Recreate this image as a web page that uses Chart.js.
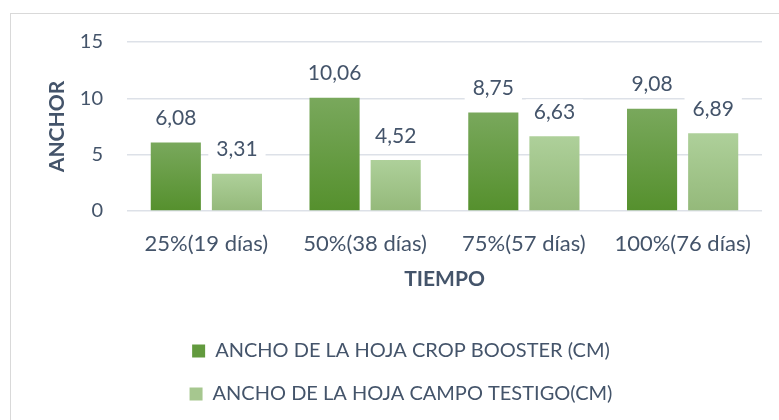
<!DOCTYPE html>
<html>
<head>
<meta charset="utf-8">
<script src="https://cdn.jsdelivr.net/npm/chart.js@4.4.1/dist/chart.umd.min.js"></script>
<style>
  body { margin: 0; background: #fff; }
  #wrap { position: relative; width: 779px; height: 420px; overflow: hidden; }
  #frame { position: absolute; left: 10px; top: 13px; width: 900px; height: 500px;
           border-left: 1px solid #d9d9d9; border-top: 1px solid #d9d9d9; }
  canvas { position: absolute; left: 0; top: 0; }
</style>
</head>
<body>
<div id="wrap">
  <div id="frame"></div>
  <canvas id="myChart" width="779" height="420"></canvas>
</div>
<script>
var categories = ['25%(19 días)', '50%(38 días)', '75%(57 días)', '100%(76 días)'];
var cropBooster = [6.08, 10.06, 8.75, 9.08];
var campoTestigo = [3.31, 4.52, 6.63, 6.89];
var yTicks = [0, 5, 10, 15];
var seriesNames = ['ANCHO DE LA HOJA CROP BOOSTER (CM)', 'ANCHO DE LA HOJA CAMPO TESTIGO(CM)'];

var FONT = 'Lato';
var TEXT = '#44546a';

// vertical gradient for each bar, from its top down to the zero line
function barFill(top, bottom) {
    return function(c) {
        var chart = c.chart;
        if (!chart.chartArea || c.type !== 'data') return bottom;
        var ys = chart.scales.y;
        var y0 = ys.getPixelForValue(c.raw);
        var y1 = ys.getPixelForValue(0);
        if (!isFinite(y0) || !isFinite(y1) || y0 === y1) return bottom;
        var g = chart.ctx.createLinearGradient(0, y0, 0, y1);
        g.addColorStop(0, top);
        g.addColorStop(1, bottom);
        return g;
    };
}

// value labels with a white box behind them
var valueLabels = {
    id: 'valueLabels',
    afterDatasetsDraw: function(chart) {
        var ctx = chart.ctx;
        ctx.save();
        ctx.font = '21px ' + FONT;
        ctx.textAlign = 'center';
        ctx.textBaseline = 'middle';
        chart.data.datasets.forEach(function(ds, i) {
            var meta = chart.getDatasetMeta(i);
            meta.data.forEach(function(bar, j) {
                var txt = ds.data[j].toFixed(2).replace('.', ',');
                var w = ctx.measureText(txt).width + 16;
                var y = bar.y - 24;
                ctx.fillStyle = '#fff';
                ctx.fillRect(bar.x - w / 2, y - 13, w, 26);
                ctx.fillStyle = TEXT;
                ctx.fillText(txt, bar.x, y);
            });
        });
        ctx.restore();
    }
};

// the legend sits a little right of the page centre
var legendShift = {
    id: 'legendShift',
    afterLayout: function(chart) {
        chart.legend.left += 40;
    }
};

var ctx = document.getElementById('myChart').getContext('2d');

var myChart = new Chart(ctx, {
    type: 'bar',
    data: {
        labels: categories,
        datasets: [{
            label: seriesNames[0],
            data: cropBooster,
            backgroundColor: barFill('#79a85c', '#55902d'),
            legendColor: '#629a3e',
            borderWidth: 0,
            categoryPercentage: 0.77,
            barPercentage: 0.82
        },
        {
            label: seriesNames[1],
            data: campoTestigo,
            backgroundColor: barFill('#aed09a', '#94b97a'),
            legendColor: '#a6c78f',
            borderWidth: 0,
            categoryPercentage: 0.77,
            barPercentage: 0.82
        }]
    },
    options: {
        responsive: false,
        animation: false,
        layout: { padding: { left: 0, right: 17, top: 42, bottom: 6 } },
        plugins: {
            tooltip: { enabled: false },
            legend: {
                position: 'bottom',
                labels: {
                    color: TEXT,
                    font: { family: FONT, size: 20 },
                    boxWidth: 13,
                    boxHeight: 13,
                    padding: 23,
                    generateLabels: function(chart) {
                        return chart.data.datasets.map(function(ds, i) {
                            return {
                                text: ds.label,
                                fillStyle: ds.legendColor,
                                strokeStyle: ds.legendColor,
                                lineWidth: 0,
                                fontColor: TEXT,
                                datasetIndex: i
                            };
                        });
                    }
                }
            }
        },
        scales: {
            x: {
                grid: { display: false },
                border: { display: false },
                ticks: { color: TEXT, font: { family: FONT, size: 22 }, padding: 12 },
                title: {
                    display: true,
                    text: 'TIEMPO',
                    color: TEXT,
                    font: { family: FONT, size: 21, weight: 'bold' },
                    padding: { top: 0, bottom: 26 }
                },
                afterFit: function(scale) { scale.height = 107; }
            },
            y: {
                min: 0,
                max: 15,
                afterBuildTicks: function(scale) {
                    scale.ticks = yTicks.map(function(v) { return { value: v }; });
                },
                grid: { color: '#dde1e8', lineWidth: 1.5, drawTicks: false },
                border: { display: false },
                ticks: { color: TEXT, font: { family: FONT, size: 20 }, padding: 24 },
                title: {
                    display: true,
                    text: 'ANCHOR',
                    color: TEXT,
                    font: { family: FONT, size: 21, weight: 'bold' },
                    padding: { top: 45, bottom: 0 }
                },
                afterFit: function(scale) { scale.width = 127; }
            }
        }
    },
    plugins: [valueLabels, legendShift]
});
</script>
</body>
</html>
